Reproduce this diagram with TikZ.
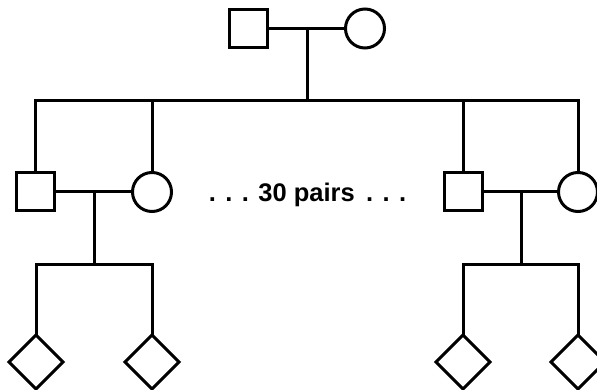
\documentclass[tikz,border=0pt]{standalone}
\usepackage{fontspec}
\setmainfont{Liberation Sans}
\usetikzlibrary{shapes.geometric}
\begin{document}
\begin{tikzpicture}[x=1pt,y=-1pt,
  line width=3pt,
  male/.style={draw,rectangle,minimum size=38pt,inner sep=0pt,outer sep=0pt},
  female/.style={draw,circle,minimum size=39pt,inner sep=0pt,outer sep=0pt},
  child/.style={draw,diamond,minimum width=54pt,minimum height=54pt,inner sep=0pt,outer sep=0pt},
  label/.style={font=\fontsize{25.5}{30}\selectfont\bfseries,inner sep=0pt}]
\useasboundingbox (0,0) rectangle (597,390);

% parents
\node[male]   (f0) at (248,28.5) {};
\node[female] (m0) at (365,28.5) {};
\coordinate (j0) at (307,28.5);
\coordinate (s0) at (307,101);

% first couple
\node[male]   (a1) at (35,192) {};
\node[female] (b1) at (152,192) {};
\coordinate (j1) at (94,192);
\coordinate (s1) at (94,264);

% last couple
\node[male]   (a2) at (463,192) {};
\node[female] (b2) at (578,192) {};
\coordinate (j2) at (521,192);
\coordinate (s2) at (521,264);

% grandchildren
\node[child] (c1) at (36,362) {};
\node[child] (c2) at (152,362) {};
\node[child] (c3) at (463,362) {};
\node[child] (c4) at (578,362) {};

\node[label] (t) at (307.5,195) {. . . 30 pairs\, . . .};

% marriage lines and descent
\draw (f0.east) -- (m0.west);
\draw (j0) -- (s0);
\draw (a1.north) |- (s0) -| (b2.north);
\draw (b1.north) -- (b1.north |- s0);
\draw (a2.north) -- (a2.north |- s0);

\draw (a1.east) -- (b1.west);
\draw (j1) -- (s1);
\draw (c1.north) |- (s1) -| (c2.north);

\draw (a2.east) -- (b2.west);
\draw (j2) -- (s2);
\draw (c3.north) |- (s2) -| (c4.north);
\end{tikzpicture}
\end{document}
